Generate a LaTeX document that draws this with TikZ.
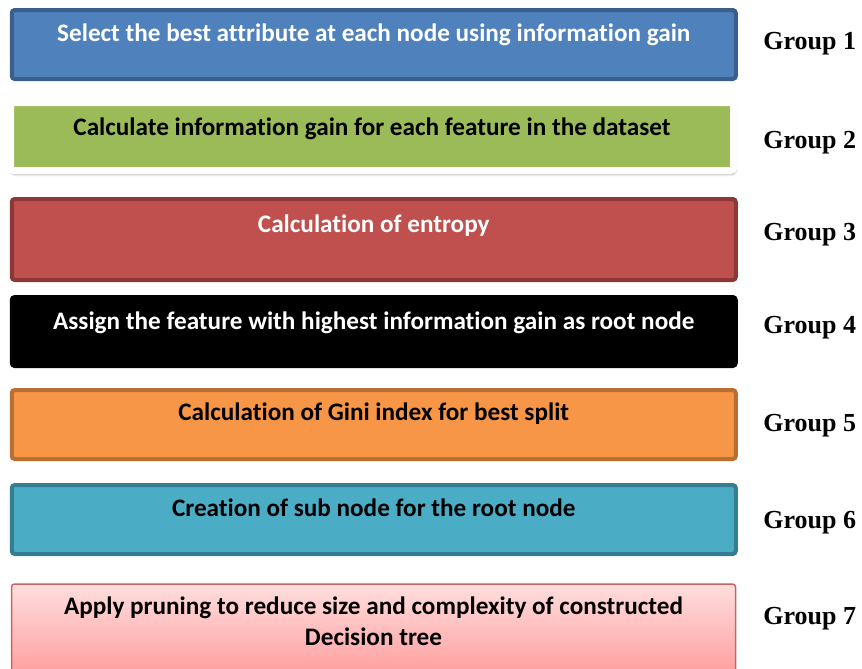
\documentclass[tikz,border=0pt]{standalone}
\usepackage{fontspec}
\setmainfont{Liberation Serif}
\newfontfamily\calfont[Ligatures=NoCommon]{Carlito}
\usetikzlibrary{positioning,shadows.blur}

\definecolor{stepblue}{HTML}{4F81BD}
\definecolor{stepblueb}{HTML}{3A5F8C}
\definecolor{stepgreen}{HTML}{9BBB59}
\definecolor{stepred}{HTML}{C0504D}
\definecolor{stepredb}{HTML}{8C3836}
\definecolor{steporange}{HTML}{F79646}
\definecolor{steporangeb}{HTML}{B96F33}
\definecolor{stepteal}{HTML}{4BACC6}
\definecolor{steptealb}{HTML}{357D91}
\definecolor{pinktop}{HTML}{FFDEDE}
\definecolor{pinkbot}{HTML}{FFA0A0}
\definecolor{pinkb}{HTML}{C86464}

\begin{document}
\begin{tikzpicture}[x=0.5pt, y=-0.5pt,
  stage/.style={rectangle, rounded corners=1.5pt, line width=2pt, minimum width=362pt, minimum height=34.5pt, inner sep=0pt},
  stagetext/.style={font=\calfont\bfseries\fontsize{12.6}{15.5}\selectfont, align=center, inner sep=0pt},
  grp/.style={font=\bfseries\fontsize{13}{15}\selectfont, anchor=base west, inner sep=0pt}]

\clip (0,0) rectangle (862,669);

% The seven steps of the decision tree algorithm.

\node[stage, fill=stepblue, draw=stepblueb] (s1) at (373.75,44.5) {};
\node[stage, fill=stepgreen, draw=white, line width=3.5pt, minimum width=361.5pt, minimum height=34pt,
  blur shadow={shadow blur steps=6, shadow blur radius=1.5pt, shadow xshift=0.6pt, shadow yshift=-1.5pt, shadow opacity=55}] (s2) at (372,136.5) {};
\node[stage, fill=stepred, draw=stepredb, minimum height=40.5pt] (s3) at (373.75,239.5) {};
\node[stage, fill=black, draw=black] (s4) at (373.75,331.5) {};
\node[stage, fill=steporange, draw=steporangeb] (s5) at (373.75,424.5) {};
\node[stage, fill=stepteal, draw=steptealb] (s6) at (373.75,519.5) {};
\node[stage, top color=pinktop, bottom color=pinkbot, draw=pinkb, line width=0.75pt, minimum height=44pt] (s7) at (373.5,628) {};

\node[stagetext, white, below=7.5pt of s1.north] (t1) {Select the best attribute at each node using information gain};
\node[stagetext, below=9pt of s2.north] (t2) {Calculate information gain for each feature in the dataset};
\node[stagetext, white, below=8.5pt of s3.north] (t3) {Calculation of entropy};
\node[stagetext, white, below=8pt of s4.north] (t4) {Assign the feature with highest information gain as root node};
\node[stagetext, below=7pt of s5.north] (t5) {Calculation of Gini index for best split};
\node[stagetext, below=7.5pt of s6.north] (t6) {Creation of sub node for the root node};
\node[stagetext, below=6.5pt of s7.north] (t7) {Apply pruning to reduce size and complexity of constructed\\Decision tree};

% Group labels on the right.

\node[grp] (g1) at (763,49.5) {Group 1};
\node[grp] (g2) at (763,148.5) {Group 2};
\node[grp] (g3) at (763,240) {Group 3};
\node[grp] (g4) at (763,333) {Group 4};
\node[grp] (g5) at (763,431.5) {Group 5};
\node[grp] (g6) at (763,528) {Group 6};
\node[grp] (g7) at (763,624) {Group 7};

\end{tikzpicture}
\end{document}
